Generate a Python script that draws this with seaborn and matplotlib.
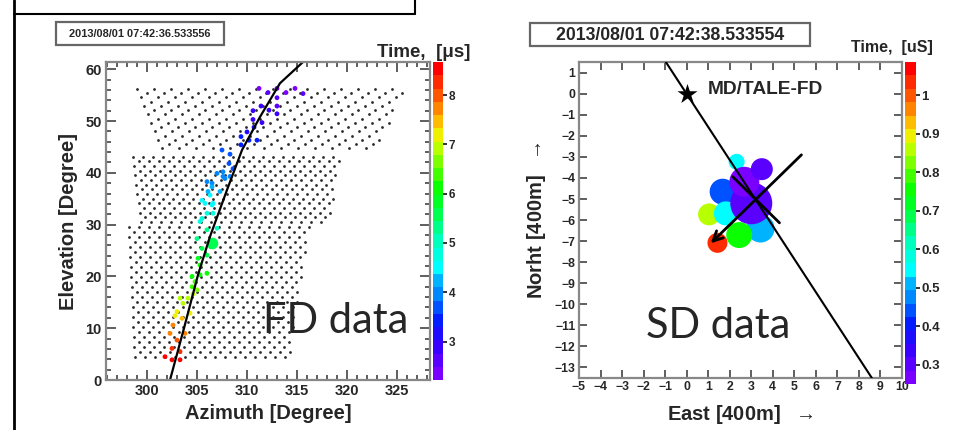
import numpy as np
import pandas as pd
import matplotlib
matplotlib.use("Agg")
import matplotlib.pyplot as plt
import seaborn as sns
from matplotlib.colors import LinearSegmentedColormap, ListedColormap, Normalize
from matplotlib.cm import ScalarMappable
from matplotlib.patches import Rectangle
from matplotlib.lines import Line2D
from matplotlib.ticker import MultipleLocator

# ------------------------------------------------------------------ data
fd_stamp = "2013/08/01 07:42:36.533556"
sd_stamp = "2013/08/01 07:42:38.533554"

# FD cameras (three mirror fields of view): elevation of top / bottom pixel rows
# and azimuth of the left / right edge at those rows
cam_el_top = [56.2, 43.1, 29.6]
cam_el_bottom = [44.2, 30.2, 3.7]
cam_az_left_top = [299.0, 298.6, 298.2]
cam_az_left_bottom = [301.6, 299.4, 298.8]
cam_az_right_top = [325.8, 319.5, 316.2]
cam_az_right_bottom = [323.0, 318.1, 314.3]
cam_row_step = [0.82, 0.9, 0.97]
cam_col_step = [1.7, 1.0, 1.0]

# triggered FD pixels: azimuth, elevation, time [us]
hit_az = [311.2, 312.1, 313.0, 313.9, 314.8, 315.6, 313.0, 310.6, 311.4, 312.2,
          313.0, 313.0, 310.6, 311.5, 310.0, 310.7, 309.4, 310.2, 307.5, 308.3,
          308.2, 307.6, 307.6, 307.0, 307.8, 306.5, 306.5, 306.3, 305.8, 306.5,
          306.0, 305.5, 305.3, 306.0, 307.0, 305.0, 305.5, 306.0, 305.1, 305.3,
          304.5, 305.3, 306.0, 304.5, 305.0, 303.3, 304.1, 303.6, 303.0, 303.5,
          302.6, 302.3, 303.8, 303.0, 302.5, 303.3, 301.8, 302.5, 303.3, 306.0,
          309.4, 311.0, 308.6, 308.3, 307.3, 306.6, 306.6, 305.5, 306.1, 304.6,
          302.8, 304.3, 304.8]
hit_el = [56.3, 55.5, 56.3, 55.5, 56.3, 55.3, 54.5, 52.0, 52.9, 52.1,
          52.9, 51.4, 50.3, 49.7, 47.9, 48.8, 45.4, 46.3, 44.4, 43.6,
          41.8, 40.2, 39.3, 39.9, 38.9, 38.0, 37.3, 35.7, 34.1, 33.8,
          32.2, 31.2, 30.6, 29.0, 29.3, 27.3, 25.4, 24.1, 23.5, 22.2,
          20.0, 20.3, 20.6, 18.0, 17.4, 15.8, 15.8, 14.8, 13.2, 11.9,
          10.6, 9.0, 9.0, 7.7, 6.1, 5.5, 4.5, 3.9, 3.9, 38.3,
          47.0, 46.3, 40.8, 39.3, 36.4, 34.1, 32.2, 34.7, 36.4, 16.6,
          12.4, 12.9, 19.0]
hit_t = [2.4, 2.5, 2.4, 2.4, 2.3, 2.5, 2.6, 2.9, 2.8, 2.8,
         2.7, 2.9, 3.0, 3.0, 3.2, 3.1, 3.4, 3.3, 3.6, 3.6,
         3.8, 3.9, 4.0, 4.0, 4.0, 4.1, 4.2, 4.4, 4.5, 4.5,
         4.7, 4.8, 4.9, 5.2, 5.1, 5.4, 5.6, 5.7, 5.8, 6.0,
         6.2, 6.2, 6.1, 6.5, 6.6, 6.9, 6.9, 7.0, 7.2, 7.4,
         7.6, 7.8, 7.7, 8.0, 8.3, 8.4, 8.5, 8.6, 8.6, 4.1,
         3.3, 3.3, 3.8, 4.0, 4.3, 4.5, 4.7, 4.4, 4.3, 6.8,
         7.3, 7.2, 6.4]
# brightest FD pixel
peak_az, peak_el, peak_t = [306.5], [26.4], [5.5]

# shower-detector plane track on the FD camera
track_az = [302.3, 303.7, 305.1, 306.3, 308.0, 309.5, 311.3, 313.3, 315.6]
track_el = [0.0, 10.0, 20.3, 27.7, 36.7, 44.4, 50.8, 57.3, 61.4]

# SD counters: east, north [400 m], time [us], signal
sd_east = [2.32, 1.04, 1.67, 1.82, 3.43, 2.44, 3.00, 2.68, 3.49, 1.43]
sd_north = [-3.23, -5.73, -4.65, -5.68, -6.40, -6.71, -5.20, -4.18, -3.58, -7.08]
sd_time = [0.55, 0.86, 0.45, 0.56, 0.50, 0.77, 0.31, 0.27, 0.30, 1.05]
sd_signal = [64, 121, 169, 144, 196, 169, 441, 225, 121, 100]

# FD site, shower-detector plane line, core and shower axis projection
fd_site = ([0.0], [0.0])
sdp_east = [-0.96, 8.6]
sdp_north = [1.5, -13.5]
perp_east = [2.14, 4.31]
perp_north = [-3.94, -6.13]
axis_from = (5.33, -2.9)
axis_to = (1.12, -7.1)

fd_ticks = [3, 4, 5, 6, 7, 8]
sd_ticks = [0.3, 0.4, 0.5, 0.6, 0.7, 0.8, 0.9, 1.0]

# ------------------------------------------------------------------ style
sns.set_style("ticks")
plt.rcParams["font.family"] = ["Liberation Sans", "DejaVu Sans"]
plt.rcParams["font.weight"] = "bold"
plt.rcParams["axes.labelweight"] = "bold"
plt.rcParams["mathtext.default"] = "regular"

anchors = [(0.0, "#7a00ff"), (0.10, "#3000ff"), (0.18, "#0020ff"), (0.25, "#0080ff"),
           (0.30, "#00b0ff"), (0.35, "#00ffff"), (0.45, "#00ffb0"), (0.52, "#00ff50"),
           (0.60, "#00ff00"), (0.70, "#80ff00"), (0.77, "#e0ff00"), (0.80, "#ffe000"),
           (0.86, "#ff9000"), (0.92, "#ff5000"), (1.0, "#ff0000")]
base = LinearSegmentedColormap.from_list("rootpal", anchors)
cmap = ListedColormap(base(np.linspace(0, 1, 24)))
fd_norm = Normalize(2.22, 8.67)
sd_norm = Normalize(0.25, 1.087)

W, H = 965, 430
fig = plt.figure(figsize=(W / 100, H / 100), dpi=100)


def rect(x0, y0, x1, y1):
    return [x0 / W, 1 - y1 / H, (x1 - x0) / W, (y1 - y0) / H]


def fpt(px, py):
    return px / W, 1 - py / H


ax1 = fig.add_axes(rect(106, 62, 430, 380))
cax1 = fig.add_axes(rect(433, 62, 443, 380))
ax2 = fig.add_axes(rect(579, 62, 902, 378))
cax2 = fig.add_axes(rect(905, 62, 916, 384))

# ------------------------------------------------------------------ FD panel
pix_az, pix_el = [], []
for k in range(len(cam_el_top)):
    rows = np.arange(cam_el_top[k], cam_el_bottom[k] - 1e-6, -cam_row_step[k])
    span = cam_el_top[k] - cam_el_bottom[k]
    for i, e in enumerate(rows):
        f = (cam_el_top[k] - e) / span
        left = cam_az_left_top[k] + f * (cam_az_left_bottom[k] - cam_az_left_top[k])
        right = cam_az_right_top[k] + f * (cam_az_right_bottom[k] - cam_az_right_top[k])
        start = left + 0.5 * cam_col_step[k] * (i % 2)
        for a in np.arange(start, right + 1e-6, cam_col_step[k]):
            pix_az.append(a)
            pix_el.append(e)

sns.scatterplot(x=pix_az, y=pix_el, color="#2a2a2a", s=4, linewidth=0,
                legend=False, ax=ax1)
hits = pd.DataFrame({"az": hit_az, "el": hit_el, "t": hit_t})
sns.scatterplot(data=hits, x="az", y="el", hue="t", palette=cmap, hue_norm=fd_norm,
                s=12, linewidth=0, legend=False, ax=ax1)
peak = pd.DataFrame({"az": peak_az, "el": peak_el, "t": peak_t})
sns.scatterplot(data=peak, x="az", y="el", hue="t", palette=cmap, hue_norm=fd_norm,
                s=70, linewidth=0, legend=False, ax=ax1)
sns.lineplot(x=track_az, y=track_el, sort=False, estimator=None, color="black",
             lw=1.6, ax=ax1)
ax1.set_xlim(295.9, 328.3)
ax1.set_ylim(0, 61.4)

# ------------------------------------------------------------------ SD panel
sd = pd.DataFrame({"east": sd_east, "north": sd_north, "t": sd_time, "sig": sd_signal})
sns.scatterplot(data=sd, x="east", y="north", hue="t", palette=cmap, hue_norm=sd_norm,
                size="sig", sizes=(64 * 2.07, 441 * 2.07), size_norm=(64, 441),
                linewidth=0, legend=False, ax=ax2, zorder=2)
sns.lineplot(x=sdp_east, y=sdp_north, sort=False, estimator=None, color="black",
             lw=1.5, ax=ax2, zorder=3)
sns.lineplot(x=perp_east, y=perp_north, sort=False, estimator=None, color="black",
             lw=2.0, ax=ax2, zorder=3)
ax2.annotate("", xy=axis_to, xytext=axis_from, zorder=4,
             arrowprops=dict(arrowstyle="->,head_length=0.7,head_width=0.35",
                             lw=2.0, color="black", shrinkA=0, shrinkB=0))
sns.scatterplot(x=fd_site[0], y=fd_site[1], marker="*", s=230, color="black",
                linewidth=0, legend=False, ax=ax2, zorder=5)
ax2.text(1.0, 0.18, "MD/TALE-FD", fontsize=13.8, fontweight="bold", va="center", ha="left")
ax2.set_xlim(-5, 10)
ax2.set_ylim(-13.5, 1.51)


# ------------------------------------------------------------------ axes style
def root_axes(ax, xmaj, xmin, ymaj, ymin, lab, majlen, minlen, pad):
    ax.xaxis.set_major_locator(MultipleLocator(xmaj))
    ax.yaxis.set_major_locator(MultipleLocator(ymaj))
    if xmin:
        ax.xaxis.set_minor_locator(MultipleLocator(xmin))
    if ymin:
        ax.yaxis.set_minor_locator(MultipleLocator(ymin))
    ax.tick_params(which="both", direction="in", top=True, right=True,
                   color="#333333", width=1.1, labelsize=lab, pad=pad)
    ax.tick_params(which="major", length=majlen)
    ax.tick_params(which="minor", length=minlen)
    for sp in ax.spines.values():
        sp.set_color("#888888")
        sp.set_linewidth(1.6)
    for t in ax.get_xticklabels() + ax.get_yticklabels():
        t.set_fontweight("bold")


root_axes(ax1, 5, 1, 10, 2, 10.5, 7, 3.5, 3)
root_axes(ax2, 1, None, 1, None, 8.8, 6, 3, 2.5)

ax1.set_xlabel("Azimuth [Degree]", fontsize=14.5, fontweight="bold")
ax1.set_ylabel("Elevation [Degree]", fontsize=14.5, fontweight="bold")
ax1.xaxis.set_label_coords(0.5, -0.075)
ax1.yaxis.set_label_coords(-0.086, 0.5)
ax2.set_xlabel("East [400m]  $\\rightarrow$", fontsize=14.5, fontweight="bold")
ax2.set_ylabel("Norht [400m]  $\\rightarrow$", fontsize=14.5, fontweight="bold")
ax2.xaxis.set_label_coords(0.5, -0.078)
ax2.yaxis.set_label_coords(-0.096, 0.5)

# ------------------------------------------------------------------ colour bars
for cax, norm, ticks, lab in [(cax1, fd_norm, fd_ticks, 8.5),
                              (cax2, sd_norm, sd_ticks, 9.5)]:
    cb = fig.colorbar(ScalarMappable(norm=norm, cmap=cmap), cax=cax)
    cb.set_ticks(ticks)
    cb.set_ticklabels(["{:g}".format(t) for t in ticks])
    cb.outline.set_visible(False)
    cax.tick_params(direction="inout", length=6, width=1.3, color="#222222",
                    labelsize=lab, pad=1)
    for t in cax.get_yticklabels():
        t.set_fontweight("bold")

fig.text(*fpt(470, 57), "Time,  [\u03bcs]", fontsize=13.5, fontweight="bold",
         ha="right", va="baseline")
fig.text(*fpt(933, 52), "Time,  [uS]", fontsize=11.5, fontweight="bold",
         ha="right", va="baseline")

# ------------------------------------------------------------------ date stamps
for (x0, y0, x1, y1), txt, fs in [((56, 22, 224, 45), fd_stamp, 7.9),
                                  ((530, 23, 810, 46), sd_stamp, 12.7)]:
    fig.add_artist(Rectangle(fpt(x0, y1), (x1 - x0) / W, (y1 - y0) / H,
                             transform=fig.transFigure, facecolor="white",
                             edgecolor="#666666", lw=1.6))
    fig.text(*fpt((x0 + x1) / 2, (y0 + y1) / 2 + 0.5), txt, fontsize=fs,
             fontweight="bold", ha="center", va="center")

# ------------------------------------------------------------------ slide overlays
fig.text(*fpt(263, 333), "FD data", fontsize=30, fontweight="normal",
         family=["Lato", "DejaVu Sans"], ha="left", va="baseline")
fig.text(*fpt(646, 338), "SD data", fontsize=30, fontweight="normal",
         family=["Lato", "DejaVu Sans"], ha="left", va="baseline")
fig.add_artist(Line2D([14 / W, 14 / W], [0, 1], color="black", lw=2,
                      transform=fig.transFigure))
fig.add_artist(Line2D([14 / W, 415 / W], [1 - 14 / H, 1 - 14 / H], color="black",
                      lw=1.5, transform=fig.transFigure))
fig.add_artist(Line2D([415 / W, 415 / W], [1, 1 - 14 / H], color="black", lw=1.5,
                      transform=fig.transFigure))

fig.savefig("out.png", dpi=100)
